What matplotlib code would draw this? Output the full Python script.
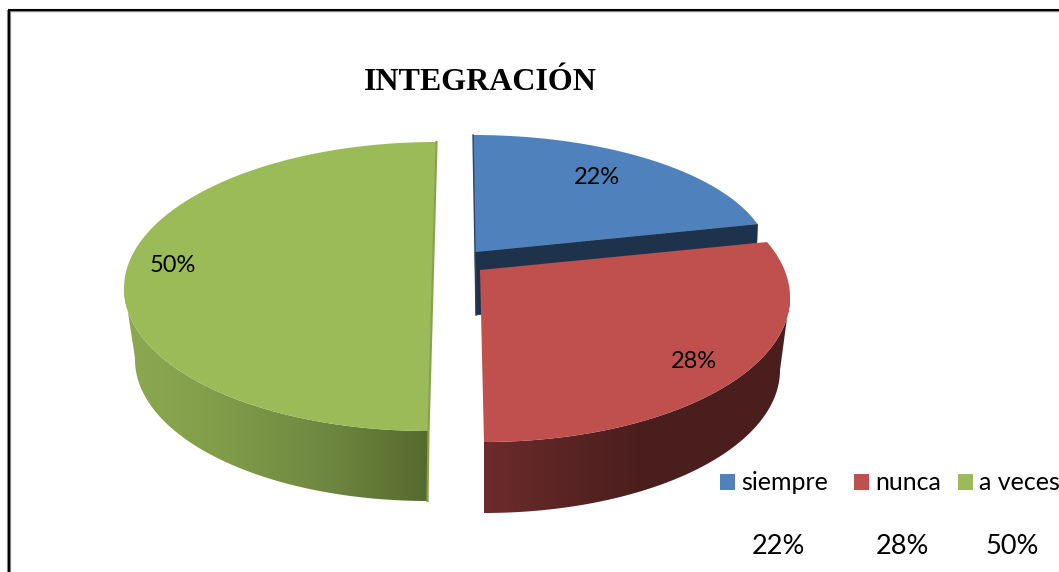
import numpy as np
import matplotlib
matplotlib.use('Agg')
import matplotlib.pyplot as plt
from matplotlib.patches import Polygon
from matplotlib.colors import to_rgb

title = 'INTEGRACIÓN'
categories = ['siempre', 'nunca', 'a veces']
values = [22, 28, 50]
colors = ['#4f81bd', '#c0504d', '#9bbb59']

# the 3d view bends the angles a bit, offsets in degrees
warp_start = [0, 10.9, 0]
warp_end = [5.9, 0, 0]

plt.rcParams['font.family'] = ['Lato', 'DejaVu Sans']

fig = plt.figure(figsize=(10.59, 5.72), dpi=100)
ax = fig.add_axes([0, 0, 1, 1])
ax.axis('off')


def arc(cx, cy, rx, ry, t0, t1, skew=0, n=160):
    t = np.radians(np.linspace(t0, t1, n))
    return np.column_stack([cx + rx*np.cos(t) + skew*np.sin(t), cy - ry*np.sin(t)])


def wall(top, bottom, xs, cols, z):
    # side of a slice, gradient runs along x and is clipped to the outline
    outline = np.vstack([top, bottom[::-1]])
    grid = np.arange(outline[:, 0].min() - 2, outline[:, 0].max() + 3)
    rgb = np.array([to_rgb(c) for c in cols])
    img = np.stack([np.interp(grid, xs, rgb[:, i]) for i in range(3)], axis=-1)[None, :, :]
    im = ax.imshow(img, extent=[grid[0], grid[-1], outline[:, 1].max() + 2, outline[:, 1].min() - 2],
                   aspect='auto', interpolation='bilinear', zorder=z)
    poly = Polygon(outline, closed=True, transform=ax.transData, fc='none', ec='none')
    ax.add_patch(poly)
    im.set_clip_path(poly)


fractions = np.array(values) / sum(values)
ends = np.cumsum(fractions)
starts = ends - fractions
angles = [(90 - 360*s + ws, 90 - 360*e + we) for s, e, ws, we in zip(starts, ends, warp_start, warp_end)]

# siempre
t0, t1 = angles[0]
top = arc(473, 260, 297, 125, t0, t1)
apex = np.array([475, 252])
ax.fill([apex[0], top[-1, 0], top[-1, 0]-2, apex[0]+1],
        [apex[1], top[-1, 1], top[-1, 1]+63, apex[1]+63], color='#1f324c', lw=0.5, zorder=1)
ax.fill(*np.vstack([apex, top]).T, color=colors[0], lw=0, zorder=2)
ax.plot([top[0, 0], apex[0], apex[0]+1], [top[0, 1], apex[1], apex[1]+63], color='#2a4566', lw=1, zorder=2)

# nunca
t0, t1 = angles[1]
top = arc(481, 296, 309, 146, t0, t1, skew=-3)
wall(arc(481, 296, 309, 146, -90, 0, skew=-3), arc(484, 370, 296, 143, -90, 0),
     [484, 520, 640, 790], ['#6e2b2b', '#642828', '#4b1e1e', '#4b1e1e'], 3)
ax.fill(*np.vstack([[480, 270], top]).T, color=colors[1], lw=0, zorder=4)

# a veces
t0, t1 = angles[2]
top = arc(432, 286.5, 308, 144.5, t0, t1, skew=4)
wall(arc(432, 286.5, 308, 144.5, 270, 180, skew=4), arc(431, 358, 296, 143, 270, 180, skew=3),
     [124, 200, 330, 428], ['#8ca850', '#84a04b', '#6e873f', '#566a2e'], 3)
ax.fill(*top.T, color=colors[2], lw=0, zorder=4)
ax.plot([436.5, 428.5, 427.5], [142, 431, 501], color='#86a44e', lw=1.6, zorder=5)

# labels on the slices
for v, x, y in zip(values, [597, 694, 173], [175, 360, 263]):
    ax.text(x, y+2, f'{v}%', ha='center', va='center', fontsize=17, color='black', zorder=6)

ax.text(480, 82, title, ha='center', va='center', fontsize=23, fontweight='bold',
        family='Liberation Serif', color='black')

# legend and the small table under it
leg_x = [720, 854, 958]
for name, col, x in zip(categories, colors, leg_x):
    ax.fill([x, x+15, x+15, x], [474, 474, 490, 490], color=col, lw=0, zorder=6)
    ax.text(x+21, 482, name, ha='left', va='center', fontsize=18, color='black', zorder=6)
for v, x in zip(values, [778, 902, 1012]):
    ax.text(x, 546, f'{v}%', ha='center', va='center', fontsize=19.5, color='black', zorder=6)

# frame of the pasted picture
ax.plot([9, 9], [572, 10], color='#8a8a8a', lw=3, solid_capstyle='butt', zorder=7)
ax.plot([8.5, 8.5], [572, 9.5], color='black', lw=1.5, solid_capstyle='butt', zorder=8)
ax.plot([8, 1059], [10.5, 10.5], color='#8a8a8a', lw=1, solid_capstyle='butt', zorder=7)
ax.plot([8, 1059], [9.5, 9.5], color='black', lw=1.5, solid_capstyle='butt', zorder=8)

ax.set_xlim(0, 1059)
ax.set_ylim(572, 0)

fig.savefig('out.png', dpi=100)
